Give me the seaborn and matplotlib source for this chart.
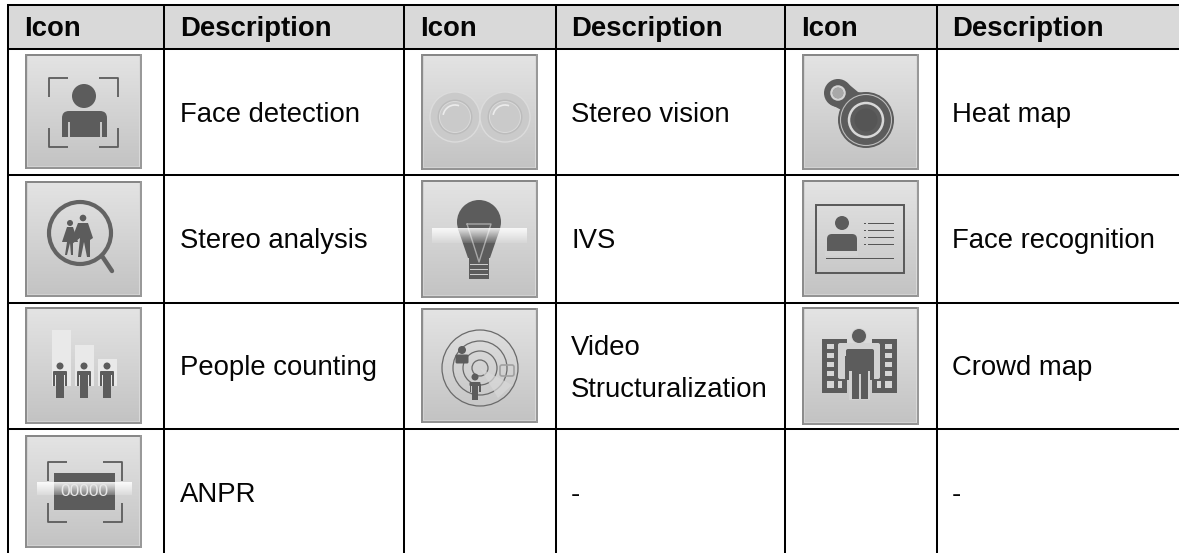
import numpy as np
import matplotlib
matplotlib.use('Agg')
import matplotlib.pyplot as plt
from matplotlib.patches import Circle, Rectangle, Polygon, FancyBboxPatch, Arc
import seaborn as sns

# table contents
header_labels = ['Icon', 'Description', 'Icon', 'Description', 'Icon', 'Description']
col1_text = ['Face detection', 'Stereo analysis', 'People counting', 'ANPR']
col2_text = ['Stereo vision', 'IVS', 'Video\nStructuralization', '-']
col3_text = ['Heat map', 'Face recognition', 'Crowd map', '-']

W, H = 1179, 553
DARK = '#5c5c5c'
sns.set_theme(style='white')
plt.rcParams['font.family'] = ['Liberation Sans', 'DejaVu Sans']

# layout in pixels
col_lines = [8, 164, 404, 556, 785, 937]
row_lines = [5, 49, 175, 303, 429]
icon_lefts = [25, 421, 802]
icon_rows = [[(54, 169), (181, 297), (307, 424), (435, 548)],
             [(54, 170), (180, 298), (308, 423)],
             [(54, 170), (180, 297), (307, 425)]]
text_lefts = [180, 571, 952]
head_lefts = [24, 420, 801]
text_base = [122, 248, 375, 502]

# background painted as one grey image, one cell per pixel
canvas = np.ones((H, W))
canvas[row_lines[0]:row_lines[1], col_lines[0]:] = 0.85
for left, rows in zip(icon_lefts, icon_rows):
    for top, bottom in rows:
        h = bottom - top
        canvas[top:bottom, left:left + 117] = np.linspace(0.89, 0.76, h)[:, None]
        # thin bevel then grey rim
        canvas[top + 2:bottom - 2, left + 2:left + 3] = 0.82
        canvas[bottom - 3:bottom - 2, left + 2:left + 115] = 0.82
        canvas[top + 2:bottom - 2, left + 114:left + 115] = 0.85
        canvas[top:top + 2, left:left + 117] = 0.53
        canvas[bottom - 2:bottom, left:left + 117] = 0.58
        canvas[top:bottom, left:left + 2] = 0.55
        canvas[top:bottom, left + 115:left + 117] = 0.6

fig = plt.figure(figsize=(W / 100, H / 100), dpi=100)
ax = fig.add_axes([0, 0, 1, 1])
sns.heatmap(canvas, ax=ax, cmap='gray', vmin=0, vmax=1, cbar=False,
            xticklabels=False, yticklabels=False)


def rect(x0, y0, x1, y1, color=DARK, z=3, **kw):
    ax.add_patch(Rectangle((x0, y0), x1 - x0, y1 - y0, fc=color, ec='none', zorder=z, **kw))


def disc(x, y, r, color=DARK, z=3):
    ax.add_patch(Circle((x, y), r, fc=color, ec='none', zorder=z))


def ring(x, y, r, color=DARK, lw=1.5, z=3):
    ax.add_patch(Circle((x, y), r, fc='none', ec=color, lw=lw, zorder=z))


def brackets(x0, x1, y0, y1, arm, color=DARK, lw=1.3):
    for cx, dx in ((x0, 1), (x1, -1)):
        for cy, dy in ((y0, 1), (y1, -1)):
            ax.plot([cx + dx * arm, cx, cx], [cy, cy, cy + dy * arm], color=color, lw=lw,
                    solid_capstyle='butt', zorder=3)


def standing(cx, head_y, r, top, bottom, half, color=DARK, z=4):
    # small standing figure, head disc, arms, torso and two legs
    disc(cx, head_y, r, color, z)
    ax.add_patch(FancyBboxPatch((cx - half + 1, top + 1), 2 * half - 2, 2, boxstyle='round,pad=1',
                                fc=color, ec='none', zorder=z))
    rect(cx - half, top + 2, cx - half * 0.72, top + (bottom - top) * 0.55, color, z)
    rect(cx + half * 0.72, top + 2, cx + half, top + (bottom - top) * 0.55, color, z)
    rect(cx - half * 0.55, top + 2, cx + half * 0.55, bottom, color, z)
    rect(cx - 0.4, top + (bottom - top) * 0.55, cx + 0.4, bottom, '#cfcfcf', z)


def band(x0, x1, y0, y1, a0=0.85, a1=0.1):
    grad = np.ones((40, 1, 4))
    grad[:, :, 3] = np.linspace(a0, a1, 40)[:, None]
    ax.imshow(grad, extent=(x0, x1, y1, y0), aspect='auto', zorder=5)


# face detection
brackets(49, 118, 78, 147, 19)
disc(84, 96, 12)
ax.add_patch(FancyBboxPatch((69, 118), 31, 12, boxstyle='round,pad=7', fc=DARK, ec='none', zorder=3))
rect(62, 124, 107, 137)
rect(68, 122, 69.5, 137, '#c9c9c9', 4)
rect(100, 122, 101.5, 137, '#c9c9c9', 4)

# stereo analysis
ring(80, 233, 31, '#636363', 3.0)
ax.plot([102, 112], [256, 271], color='#636363', lw=3.2, solid_capstyle='round', zorder=3)
disc(83, 218, 3.3)
ax.add_patch(Polygon([(78, 223), (88, 223), (93, 238), (90, 240), (90, 257), (87, 257), (84, 242),
                      (81, 257), (78, 257), (80, 238), (72, 244), (71, 241)], fc=DARK, ec='none', zorder=3))
disc(70, 223, 3)
ax.add_patch(Polygon([(67, 227), (73, 227), (78, 242), (73, 242), (73, 255), (71, 255), (70, 243),
                      (67, 255), (65, 255), (67, 242), (62, 242)], fc=DARK, ec='none', zorder=3))

# people counting
for x0, x1, y0 in ((52, 71, 330), (75, 94, 345), (98, 117, 359)):
    rect(x0, y0, x1, 386, '#e9e9e9', 2)
for cx in (60, 84, 107):
    standing(cx, 366, 3.5, 371, 398, 7)

# ANPR
brackets(48, 122, 462, 522, 19)
rect(54, 473, 115, 510)
band(37, 132, 482, 495, 0.9, 0.2)
ax.text(84.5, 491, '00000', ha='center', va='center', color='#e8e8e8', fontsize=12.5, zorder=6)

# stereo vision
for cx in (455, 505):
    disc(cx, 117, 25, '#cacaca', 3)
    ring(cx, 117, 25, '#dcdcdc', 1.0, 3)
    ring(cx, 117, 16.5, '#bcbcbc', 1.4, 3)
    ring(cx, 117, 15.5, '#dadada', 0.7, 3)
    ax.add_patch(Arc((cx, 117), 24, 24, theta1=190, theta2=290, color='#ececec', lw=1.2, zorder=4))

# IVS bulb
disc(479, 222, 22)
ax.add_patch(Polygon([(458, 229), (500, 229), (490, 258), (468, 258)], fc=DARK, ec='none', zorder=3))
rect(469, 258, 489, 279)
for y in (264, 269, 274):
    rect(470, y, 488, y + 1.2, '#cccccc', 4)
ax.plot([467, 491, 479, 467], [224, 224, 262, 224], color='#a8a8a8', lw=1.0, zorder=4)
band(432, 527, 228, 243)

# video structuralization
for r in (38, 27, 17, 8):
    ring(480, 368, r, '#6a6a6a', 0.9)
ax.add_patch(Polygon([(480, 368), (512, 385), (498, 398)], fc='#d8d8d8', ec='none', alpha=0.7, zorder=3))
disc(462, 350, 4)
ax.add_patch(FancyBboxPatch((457, 356), 10, 6, boxstyle='round,pad=1.5', fc=DARK, ec='none', zorder=4))
standing(475, 377, 3.5, 382, 400, 5.5)
ax.add_patch(FancyBboxPatch((502, 367), 10, 7, boxstyle='round,pad=2', fc='none', ec='#a0a0a0', lw=1.2, zorder=4))

# heat map
ax.add_patch(Polygon([(846, 82), (858, 92), (880, 96), (860, 120), (830, 104)], fc=DARK, ec='none', zorder=3))
disc(838, 93, 14)
disc(866, 120, 28)
ring(838, 93, 6.5, '#d4d4d4', 1.8, 4)
disc(838, 93, 5.5, '#a8a8a8', 4)
ring(866, 120, 17, '#d8d8d8', 1.8, 4)
ring(866, 120, 25.5, '#bdbdbd', 0.8, 4)
disc(866, 120, 11.5, '#555555', 4)

# face recognition
ax.add_patch(Rectangle((816, 205), 88, 68, fc='none', ec='#585858', lw=1.4, zorder=3))
disc(842, 223, 7)
ax.add_patch(FancyBboxPatch((832, 239), 20, 12, boxstyle='round,pad=5', fc=DARK, ec='none', zorder=3))
rect(825, 251, 858, 256, '#d2d2d2', 3)
for y in (222.5, 229.5, 236.5, 243.5):
    rect(868, y, 894, y + 1.0, '#555555')
    rect(864, y, 866, y + 1.0, '#555555')
rect(826, 258, 894, 259.2, '#555555')

# crowd map
rect(822, 339, 847, 393)
rect(872, 339, 897, 393)
for x0 in (827, 885):
    for y in (344, 353, 362, 371):
        rect(x0, y, x0 + 7, y + 5, '#d6d6d6', 4)
for x0, x1 in ((827, 834), (838, 842), (877, 881), (885, 892)):
    rect(x0, 381, x1, 388, '#d6d6d6', 4)
disc(859, 336, 8, '#d2d2d2', 4)
disc(859, 336, 7, DARK, 5)
ax.add_patch(FancyBboxPatch((840, 345), 38, 32, boxstyle='round,pad=2', fc='#d2d2d2', ec='none', zorder=4))
rect(849, 370, 870, 400, '#d2d2d2', 4)
ax.add_patch(FancyBboxPatch((848, 351), 24, 18, boxstyle='round,pad=2', fc=DARK, ec='none', zorder=5))
rect(852, 360, 868, 399, DARK, 5)
rect(858.7, 374, 861.3, 400, '#cfcfcf', 6)
rect(845, 356, 849, 380, DARK, 5)
rect(870, 356, 874, 380, DARK, 5)

# table rules
for x in col_lines:
    ax.plot([x, x], [row_lines[0] - 1, H], color='black', lw=1.45, solid_capstyle='butt', zorder=8)
for y in row_lines:
    ax.plot([col_lines[0] - 1, W], [y, y], color='black', lw=1.45, solid_capstyle='butt', zorder=8)

# text
FS = 19.8
INK = '#050505'
for i, label in enumerate(header_labels):
    x = head_lefts[i // 2] if i % 2 == 0 else text_lefts[i // 2]
    ax.text(x, 36.5, label, fontsize=FS, fontweight='bold', color=INK, va='baseline', zorder=9)
for x, column in zip(text_lefts, (col1_text, col2_text, col3_text)):
    for y, label in zip(text_base, column):
        if '\n' in label:
            top_line, bottom_line = label.split('\n')
            ax.text(x, y - 20, top_line, fontsize=FS, color=INK, va='baseline', zorder=9)
            ax.text(x, y + 22, bottom_line, fontsize=FS, color=INK, va='baseline', zorder=9)
        else:
            ax.text(x, y, label, fontsize=FS, color=INK, va='baseline', zorder=9)

ax.set_xlim(0, W)
ax.set_ylim(H, 0)
ax.set_aspect('auto')
ax.axis('off')
fig.savefig('out.png', dpi=100)
